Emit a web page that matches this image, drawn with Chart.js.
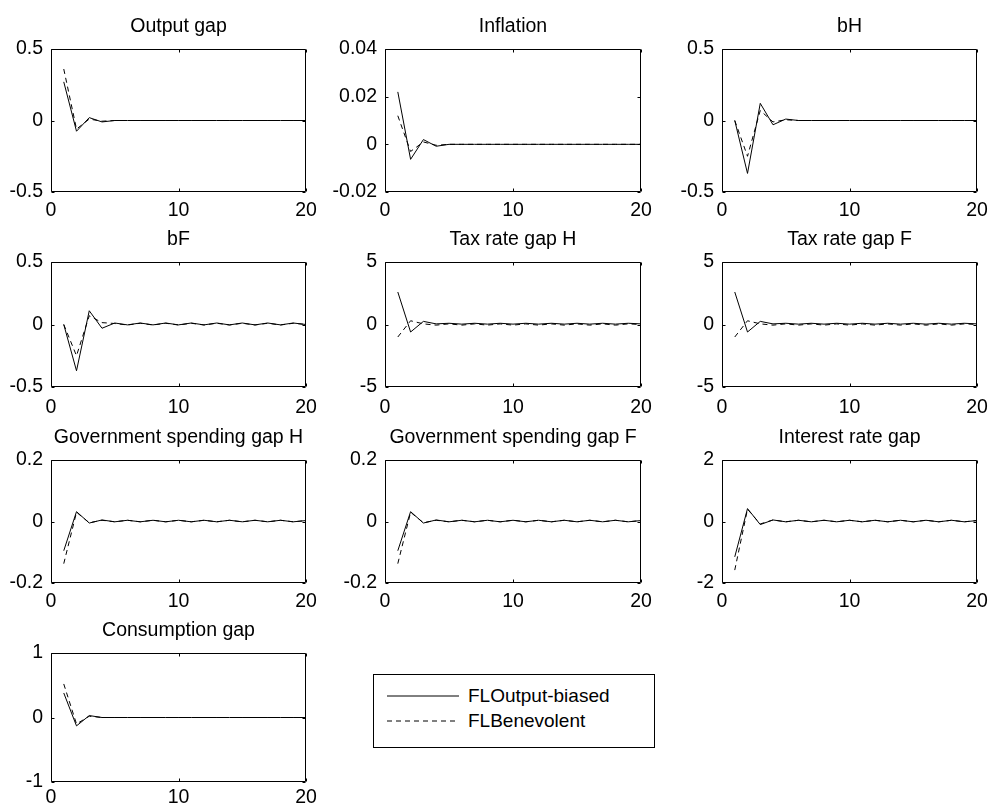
<!DOCTYPE html>
<html>
<head>
<meta charset="utf-8">
<script src="https://cdn.jsdelivr.net/npm/chart.js@4/dist/chart.umd.min.js"></script>
<style>
  body { margin: 0; background: #fff; }
  #wrap { position: relative; width: 991px; height: 807px; overflow: hidden; background: #fff; }
  canvas { position: absolute; }
  #legend {
    position: absolute; left: 373px; top: 674px; width: 280px; height: 72px;
    border: 1px solid #000; background: #fff;
    font-family: "Liberation Sans", Arial, sans-serif; font-size: 19px; color: #000;
  }
  #legend .row { position: absolute; left: 0; height: 24px; line-height: 24px; white-space: nowrap; }
  #legend svg { position: absolute; left: 13px; top: 11px; }
  #legend span { position: absolute; left: 94px; }
</style>
</head>
<body>
<div id="wrap">
  <div id="legend">
    <div class="row" style="top:9px">
      <svg width="72" height="2"><line x1="0" y1="1" x2="72" y2="1" stroke="#000" stroke-width="1"/></svg>
      <span>FLOutput-biased</span>
    </div>
    <div class="row" style="top:34px">
      <svg width="72" height="2"><line x1="0" y1="1" x2="72" y2="1" stroke="#000" stroke-width="1" stroke-dasharray="5,4"/></svg>
      <span>FLBenevolent</span>
    </div>
  </div>
</div>
<script>
// horizon (quarters after the shock)
const periods = [1, 2, 3, 4, 5, 6, 7, 8, 9, 10, 11, 12, 13, 14, 15, 16, 17, 18, 19, 20];
const xTicks = [0, 10, 20];

const titles = [
  "Output gap", "Inflation", "bH",
  "bF", "Tax rate gap H", "Tax rate gap F",
  "Government spending gap H", "Government spending gap F", "Interest rate gap",
  "Consumption gap"
];

const yTicks = [
  [-0.5, 0, 0.5], [-0.02, 0, 0.02, 0.04], [-0.5, 0, 0.5],
  [-0.5, 0, 0.5], [-5, 0, 5], [-5, 0, 5],
  [-0.2, 0, 0.2], [-0.2, 0, 0.2], [-2, 0, 2],
  [-1, 0, 1]
];

// FL output-biased (solid)
const outputGapBiased = [0.27, -0.075, 0.02, -0.01, 0, 0, 0, 0, 0, 0, 0, 0, 0, 0, 0, 0, 0, 0, 0, 0];
const inflationBiased = [0.022, -0.0063, 0.002, -0.0008, 0, 0, 0, 0, 0, 0, 0, 0, 0, 0, 0, 0, 0, 0, 0, 0];
const bHBiased = [0, -0.37, 0.12, -0.03, 0.01, 0, 0, 0, 0, 0, 0, 0, 0, 0, 0, 0, 0, 0, 0, 0];
const bFBiased = [0, -0.37, 0.11, -0.03, 0.012, -0.003, 0.012, -0.003, 0.012, -0.003, 0.012, -0.003, 0.012, -0.003, 0.012, -0.003, 0.012, -0.003, 0.012, 0];
const taxHBiased = [2.6, -0.6, 0.25, 0.05, 0.1, 0.03, 0.1, 0.03, 0.1, 0.03, 0.1, 0.03, 0.1, 0.03, 0.1, 0.03, 0.1, 0.03, 0.1, 0.05];
const taxFBiased = [2.6, -0.6, 0.25, 0.05, 0.1, 0.03, 0.1, 0.03, 0.1, 0.03, 0.1, 0.03, 0.1, 0.03, 0.1, 0.03, 0.1, 0.03, 0.1, 0.05];
const govHBiased = [-0.095, 0.032, -0.005, 0.005, -0.001, 0.004, -0.001, 0.004, -0.001, 0.004, -0.001, 0.004, -0.001, 0.004, -0.001, 0.004, -0.001, 0.004, -0.001, 0.003];
const govFBiased = [-0.095, 0.032, -0.005, 0.005, -0.001, 0.004, -0.001, 0.004, -0.001, 0.004, -0.001, 0.004, -0.001, 0.004, -0.001, 0.004, -0.001, 0.004, -0.001, 0.003];
const rateBiased = [-1.15, 0.42, -0.1, 0.05, -0.01, 0.04, -0.01, 0.04, -0.01, 0.04, -0.01, 0.04, -0.01, 0.04, -0.01, 0.04, -0.01, 0.04, -0.01, 0.03];
const consBiased = [0.38, -0.13, 0.03, 0, 0, 0, 0, 0, 0, 0, 0, 0, 0, 0, 0, 0, 0, 0, 0, 0];

// FL benevolent (dashed)
const outputGapBenev = [0.36, -0.06, 0.01, -0.005, 0, 0, 0, 0, 0, 0, 0, 0, 0, 0, 0, 0, 0, 0, 0, 0];
const inflationBenev = [0.012, -0.003, 0.001, -0.0004, 0, 0, 0, 0, 0, 0, 0, 0, 0, 0, 0, 0, 0, 0, 0, 0];
const bHBenev = [0, -0.25, 0.07, -0.01, 0.005, 0, 0, 0, 0, 0, 0, 0, 0, 0, 0, 0, 0, 0, 0, 0];
const bFBenev = [0, -0.25, 0.07, 0.015, 0.008, -0.004, 0.01, -0.004, 0.01, -0.004, 0.01, -0.004, 0.01, -0.004, 0.01, -0.004, 0.01, -0.004, 0.01, 0];
const taxHBenev = [-1.0, 0.3, 0.05, -0.05, 0.05, -0.05, 0.05, -0.05, 0.05, -0.05, 0.05, -0.05, 0.05, -0.05, 0.05, -0.05, 0.05, -0.05, 0.05, 0];
const taxFBenev = [-1.0, 0.3, 0.05, -0.05, 0.05, -0.05, 0.05, -0.05, 0.05, -0.05, 0.05, -0.05, 0.05, -0.05, 0.05, -0.05, 0.05, -0.05, 0.05, 0];
const govHBenev = [-0.137, 0.03, -0.004, 0.004, -0.001, 0.004, -0.001, 0.004, -0.001, 0.004, -0.001, 0.004, -0.001, 0.004, -0.001, 0.004, -0.001, 0.004, -0.001, 0.003];
const govFBenev = [-0.137, 0.03, -0.004, 0.004, -0.001, 0.004, -0.001, 0.004, -0.001, 0.004, -0.001, 0.004, -0.001, 0.004, -0.001, 0.004, -0.001, 0.004, -0.001, 0.003];
const rateBenev = [-1.58, 0.4, -0.08, 0.05, -0.01, 0.04, -0.01, 0.04, -0.01, 0.04, -0.01, 0.04, -0.01, 0.04, -0.01, 0.04, -0.01, 0.04, -0.01, 0.03];
const consBenev = [0.52, -0.1, 0.02, 0, 0, 0, 0, 0, 0, 0, 0, 0, 0, 0, 0, 0, 0, 0, 0, 0];

const biased = [outputGapBiased, inflationBiased, bHBiased, bFBiased, taxHBiased, taxFBiased, govHBiased, govFBiased, rateBiased, consBiased];
const benev = [outputGapBenev, inflationBenev, bHBenev, bFBenev, taxHBenev, taxFBenev, govHBenev, govFBenev, rateBenev, consBenev];

// subplot grid: axes boxes in page pixels
const colLeft = [51, 385, 722];
const colWidth = [255, 256, 255];
const rowTop = [49, 262, 460, 653];
const rowHeight = [143, 125, 123, 129];
const xPad = [7, 9, 7, 4];

const FONT = '"Liberation Sans", Arial, Helvetica, sans-serif';
const FSIZE = 19.5;
const PAD_L = 62, PAD_T = 40, PAD_R = 20, PAD_B = 36;

// box around the axes, ticks pointing inward, title above
const axesBox = {
  id: 'axesBox',
  afterDatasetsDraw(chart, args, opts) {
    const { ctx, chartArea: a, scales: { x, y } } = chart;
    const l = Math.round(a.left) + 0.5, r = Math.round(a.right) - 0.5;
    const t = Math.round(a.top) + 0.5, b = Math.round(a.bottom) - 0.5;
    ctx.save();
    ctx.strokeStyle = '#000';
    ctx.lineWidth = 1;
    ctx.beginPath();
    ctx.rect(l, t, r - l, b - t);
    x.ticks.forEach(tk => {
      const px = Math.round(x.getPixelForValue(tk.value)) + 0.5;
      ctx.moveTo(px, t); ctx.lineTo(px, t + 3);
      ctx.moveTo(px, b); ctx.lineTo(px, b - 3);
    });
    y.ticks.forEach(tk => {
      const py = Math.round(y.getPixelForValue(tk.value)) + 0.5;
      ctx.moveTo(l, py); ctx.lineTo(l + 3, py);
      ctx.moveTo(r, py); ctx.lineTo(r - 3, py);
    });
    ctx.stroke();
    ctx.fillStyle = '#000';
    ctx.font = FSIZE + 'px ' + FONT;
    ctx.textAlign = 'center';
    ctx.textBaseline = 'alphabetic';
    ctx.fillText(opts.text, (a.left + a.right) / 2, a.top - 17);
    ctx.restore();
  }
};

const wrap = document.getElementById('wrap');

titles.forEach((title, i) => {
  const row = Math.floor(i / 3), col = i % 3;
  const w = colWidth[col] + PAD_L + PAD_R;
  const h = rowHeight[row] + PAD_T + PAD_B;
  const cv = document.createElement('canvas');
  cv.width = w; cv.height = h;
  cv.style.left = (colLeft[col] - PAD_L) + 'px';
  cv.style.top = (rowTop[row] - PAD_T) + 'px';
  cv.style.width = w + 'px'; cv.style.height = h + 'px';
  wrap.appendChild(cv);

  const ticksY = yTicks[i];
  new Chart(cv.getContext('2d'), {
    type: 'line',
    data: {
      datasets: [
        {
          label: 'FLOutput-biased',
          data: periods.map((p, k) => ({ x: p, y: biased[i][k] })),
          borderColor: '#000', borderWidth: 1, pointRadius: 0, tension: 0, fill: false
        },
        {
          label: 'FLBenevolent',
          data: periods.map((p, k) => ({ x: p, y: benev[i][k] })),
          borderColor: '#000', borderWidth: 1, borderDash: [5, 4], pointRadius: 0, tension: 0, fill: false
        }
      ]
    },
    options: {
      responsive: false,
      animation: false,
      events: [],
      layout: { padding: { left: 0, top: PAD_T, right: PAD_R, bottom: 0 } },
      plugins: {
        legend: { display: false },
        tooltip: { enabled: false },
        axesBox: { text: title }
      },
      scales: {
        x: {
          type: 'linear', min: 0, max: 20,
          grid: { display: false, drawTicks: false }, border: { display: false },
          afterBuildTicks: s => { s.ticks = xTicks.map(v => ({ value: v })); },
          afterFit: s => { s.height = PAD_B; },
          ticks: {
            color: '#000', padding: xPad[row], maxRotation: 0,
            font: { family: FONT, size: FSIZE },
            callback: v => String(v)
          }
        },
        y: {
          type: 'linear', min: ticksY[0], max: ticksY[ticksY.length - 1],
          grid: { display: false, drawTicks: false }, border: { display: false },
          afterBuildTicks: s => { s.ticks = ticksY.map(v => ({ value: v })); },
          afterFit: s => { s.width = PAD_L; },
          ticks: {
            color: '#000', padding: 8,
            font: { family: FONT, size: FSIZE },
            callback: v => String(v)
          }
        }
      }
    },
    plugins: [axesBox]
  });
});
</script>
</body>
</html>
